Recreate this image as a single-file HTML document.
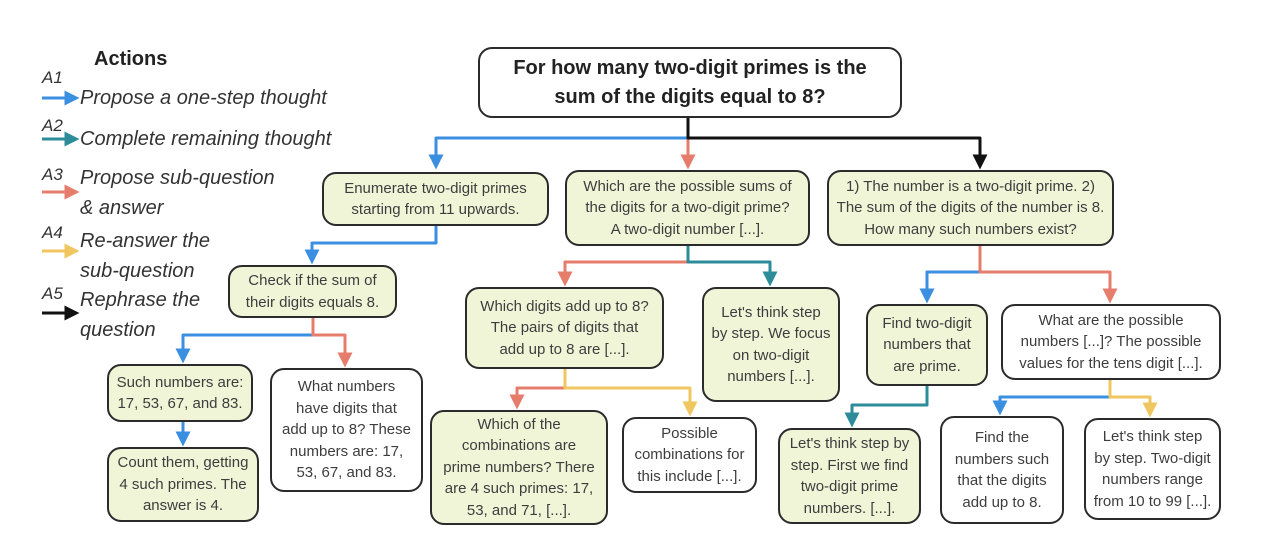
<!DOCTYPE html>
<html><head><meta charset="utf-8"><style>
body{margin:0;width:1286px;height:544px;background:#fff;position:relative;overflow:hidden;font-family:"Liberation Sans",sans-serif;}
.b{position:absolute;box-sizing:border-box;border:2px solid #2b2b2b;border-radius:14px;background:#f1f5d8;display:flex;align-items:center;justify-content:center;text-align:center;font-size:15px;line-height:21.5px;color:#3d3d3d;padding:0 2px;white-space:nowrap;}
.w{background:#fff;}
.t{position:absolute;font-style:italic;font-size:20px;color:#333;line-height:30px;}
.l{position:absolute;font-style:italic;font-size:17px;color:#333;}
svg{position:absolute;left:0;top:0;}
</style></head><body>
<svg width="1286" height="544">
<defs>
<marker id="mb" markerWidth="5" markerHeight="5" refX="2.5" refY="2.5" orient="auto"><path d="M0,0 L5,2.5 L0,5z" fill="#3b8fe0"/></marker>
<marker id="mt" markerWidth="5" markerHeight="5" refX="2.5" refY="2.5" orient="auto"><path d="M0,0 L5,2.5 L0,5z" fill="#2c8c99"/></marker>
<marker id="ms" markerWidth="5" markerHeight="5" refX="2.5" refY="2.5" orient="auto"><path d="M0,0 L5,2.5 L0,5z" fill="#e57c6c"/></marker>
<marker id="my" markerWidth="5" markerHeight="5" refX="2.5" refY="2.5" orient="auto"><path d="M0,0 L5,2.5 L0,5z" fill="#f0c660"/></marker>
<marker id="mk" markerWidth="5" markerHeight="5" refX="2.5" refY="2.5" orient="auto"><path d="M0,0 L5,2.5 L0,5z" fill="#111"/></marker>
</defs>
<g fill="none" stroke-width="3" stroke-linejoin="round">
<path d="M42 98 H72" stroke="#3b8fe0" marker-end="url(#mb)"/>
<path d="M42 139 H72" stroke="#2c8c99" marker-end="url(#mt)"/>
<path d="M42 192 H72" stroke="#e57c6c" marker-end="url(#ms)"/>
<path d="M42 251 H72" stroke="#f0c660" marker-end="url(#my)"/>
<path d="M42 313 H72" stroke="#111" marker-end="url(#mk)"/>
<path d="M688 118 V138 H436 V162" stroke="#3b8fe0" marker-end="url(#mb)"/>
<path d="M688 118 V162" stroke="#e57c6c" marker-end="url(#ms)"/>
<path d="M688 118 V138 H980 V162" stroke="#111" marker-end="url(#mk)"/>
<path d="M436 226 V243 H312 V257" stroke="#3b8fe0" marker-end="url(#mb)"/>
<path d="M313 318 V335 H183 V356" stroke="#3b8fe0" marker-end="url(#mb)"/>
<path d="M313 318 V335 H345 V360" stroke="#e57c6c" marker-end="url(#ms)"/>
<path d="M183 422 V439" stroke="#3b8fe0" marker-end="url(#mb)"/>
<path d="M688 246 V262 H565 V279" stroke="#e57c6c" marker-end="url(#ms)"/>
<path d="M688 246 V262 H770 V279" stroke="#2c8c99" marker-end="url(#mt)"/>
<path d="M565 369 V388 H517 V402" stroke="#e57c6c" marker-end="url(#ms)"/>
<path d="M565 369 V388 H690 V409" stroke="#f0c660" marker-end="url(#my)"/>
<path d="M980 246 V272 H927 V296" stroke="#3b8fe0" marker-end="url(#mb)"/>
<path d="M980 246 V272 H1110 V296" stroke="#e57c6c" marker-end="url(#ms)"/>
<path d="M927 386 V405 H852 V420" stroke="#2c8c99" marker-end="url(#mt)"/>
<path d="M1110 380 V397 H1000 V408" stroke="#3b8fe0" marker-end="url(#mb)"/>
<path d="M1110 380 V397 H1150 V410" stroke="#f0c660" marker-end="url(#my)"/>
</g>
</svg>
<div style="position:absolute;left:94px;top:48px;font-weight:bold;font-size:20px;color:#222;">Actions</div>
<div class="l" style="left:42px;top:68px">A1</div>
<div class="t" style="left:80px;top:83px">Propose a one-step thought</div>
<div class="l" style="left:42px;top:116px">A2</div>
<div class="t" style="left:80px;top:124px">Complete remaining thought</div>
<div class="l" style="left:42px;top:165px">A3</div>
<div class="t" style="left:80px;top:163px">Propose sub-question<br>&amp; answer</div>
<div class="l" style="left:42px;top:223px">A4</div>
<div class="t" style="left:80px;top:226px">Re-answer the<br>sub-question</div>
<div class="l" style="left:42px;top:284px">A5</div>
<div class="t" style="left:80px;top:285px">Rephrase the<br>question</div>

<div class="b w" style="left:478px;top:47px;width:424px;height:71px;font-weight:bold;font-size:20px;line-height:29px;color:#222;border-width:2.5px">For how many two-digit primes is the<br>sum of the digits equal to 8?</div>

<div class="b" style="left:322px;top:172px;width:227px;height:54px">Enumerate two-digit primes<br>starting from 11 upwards.</div>
<div class="b" style="left:565px;top:170px;width:245px;height:76px">Which are the possible sums of<br>the digits for a two-digit prime?<br>A two-digit number [...].</div>
<div class="b" style="left:827px;top:170px;width:287px;height:76px">1) The number is a two-digit prime. 2)<br>The sum of the digits of the number is 8.<br>How many such numbers exist?</div>

<div class="b" style="left:228px;top:265px;width:169px;height:53px">Check if the sum of<br>their digits equals 8.</div>
<div class="b" style="left:465px;top:287px;width:199px;height:82px">Which digits add up to 8?<br>The pairs of digits that<br>add up to 8 are [...].</div>
<div class="b" style="left:702px;top:287px;width:138px;height:115px">Let's think step<br>by step. We focus<br>on two-digit<br>numbers [...].</div>
<div class="b" style="left:866px;top:304px;width:122px;height:82px">Find two-digit<br>numbers that<br>are prime.</div>
<div class="b w" style="left:1001px;top:304px;width:220px;height:76px">What are the possible<br>numbers [...]? The possible<br>values for the tens digit [...].</div>

<div class="b" style="left:107px;top:364px;width:146px;height:58px">Such numbers are:<br>17, 53, 67, and 83.</div>
<div class="b w" style="left:270px;top:368px;width:153px;height:124px">What numbers<br>have digits that<br>add up to 8? These<br>numbers are: 17,<br>53, 67, and 83.</div>
<div class="b" style="left:430px;top:410px;width:178px;height:115px">Which of the<br>combinations are<br>prime numbers? There<br>are 4 such primes: 17,<br>53, and 71, [...].</div>
<div class="b w" style="left:622px;top:417px;width:135px;height:76px">Possible<br>combinations for<br>this include [...].</div>
<div class="b" style="left:778px;top:428px;width:143px;height:96px">Let's think step by<br>step. First we find<br>two-digit prime<br>numbers. [...].</div>
<div class="b w" style="left:940px;top:416px;width:124px;height:108px">Find the<br>numbers such<br>that the digits<br>add up to 8.</div>
<div class="b w" style="left:1084px;top:418px;width:137px;height:102px">Let's think step<br>by step. Two-digit<br>numbers range<br>from 10 to 99 [...].</div>
<div class="b" style="left:107px;top:447px;width:152px;height:75px">Count them, getting<br>4 such primes. The<br>answer is 4.</div>
</body></html>
